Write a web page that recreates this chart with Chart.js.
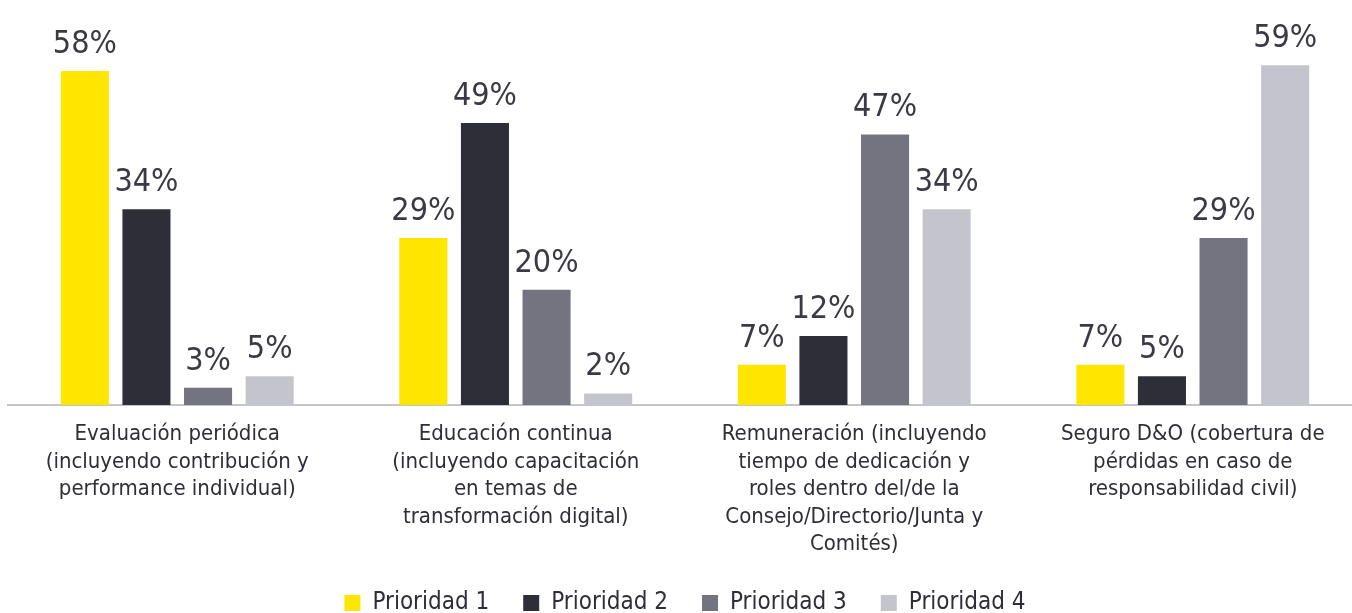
<!DOCTYPE html>
<html>
<head>
<meta charset="utf-8">
<script src="https://cdn.jsdelivr.net/npm/chart.js@4"></script>
<style>
    html, body { margin: 0; padding: 0; background: #ffffff; overflow: hidden; }
    #wrap { position: relative; width: 1364px; height: 613px; }
</style>
</head>
<body>
<div id="wrap"><canvas id="prioridades"></canvas></div>
<script>
// Données du graphique
const categorias = [
    ['Evaluación periódica', '(incluyendo contribución y', 'performance individual)'],
    ['Educación continua', '(incluyendo capacitación', 'en temas de', 'transformación digital)'],
    ['Remuneración (incluyendo', 'tiempo de dedicación y', 'roles dentro del/de la', 'Consejo/Directorio/Junta y', 'Comités)'],
    ['Seguro D&O (cobertura de', 'pérdidas en caso de', 'responsabilidad civil)']
];
const series = ['Prioridad 1', 'Prioridad 2', 'Prioridad 3', 'Prioridad 4'];
const prioridad1 = [58, 29, 7, 7];
const prioridad2 = [34, 49, 12, 5];
const prioridad3 = [3, 20, 47, 29];
const prioridad4 = [5, 2, 34, 59];

const colores = ['#ffe600', '#2e2e38', '#747480', '#c4c4cd'];
const fuente = '"DejaVu Sans Condensed", "DejaVu Sans", sans-serif';
const texto = '#2e2e38';

Chart.defaults.font.family = fuente;
Chart.defaults.color = texto;

// Étiquettes de valeur au-dessus des barres
const etiquetas = {
    id: 'etiquetas',
    afterDatasetsDraw(chart) {
        const ctx = chart.ctx;
        ctx.save();
        ctx.font = '32px ' + fuente;
        ctx.fillStyle = '#3a3a44';
        ctx.textAlign = 'center';
        ctx.textBaseline = 'alphabetic';
        chart.data.datasets.forEach((ds, i) => {
            chart.getDatasetMeta(i).data.forEach((bar, j) => {
                ctx.fillText(ds.data[j] + '%', bar.x, bar.y - 18);
            });
        });
        ctx.restore();
    }
};

const valores = [prioridad1, prioridad2, prioridad3, prioridad4];

new Chart(document.getElementById('prioridades'), {
    type: 'bar',
    data: {
        labels: categorias,
        datasets: series.map((nombre, i) => ({
            label: nombre,
            data: valores[i],
            backgroundColor: colores[i],
            borderWidth: 0,
            barPercentage: 0.78,
            categoryPercentage: 0.728
        }))
    },
    options: {
        responsive: true,
        maintainAspectRatio: false,
        animation: false,
        layout: { padding: { top: 2, left: 8, right: 2, bottom: 0 } },
        plugins: {
            legend: {
                position: 'bottom',
                maxHeight: 56,
                labels: {
                    boxWidth: 16,
                    boxHeight: 16,
                    padding: 34,
                    font: { size: 24 },
                    color: texto
                }
            },
            tooltip: { enabled: false }
        },
        scales: {
            y: {
                min: 0,
                max: 70,
                display: false
            },
            x: {
                grid: { display: false, drawTicks: false },
                border: { color: '#c4c4cd', width: 2 },
                ticks: {
                    padding: 16,
                    font: { size: 22, lineHeight: 1.25 },
                    color: texto,
                    maxRotation: 0,
                    autoSkip: false
                },
                afterFit(scale) {
                    scale.height = 152;
                }
            }
        }
    },
    plugins: [etiquetas]
});
</script>
</body>
</html>
